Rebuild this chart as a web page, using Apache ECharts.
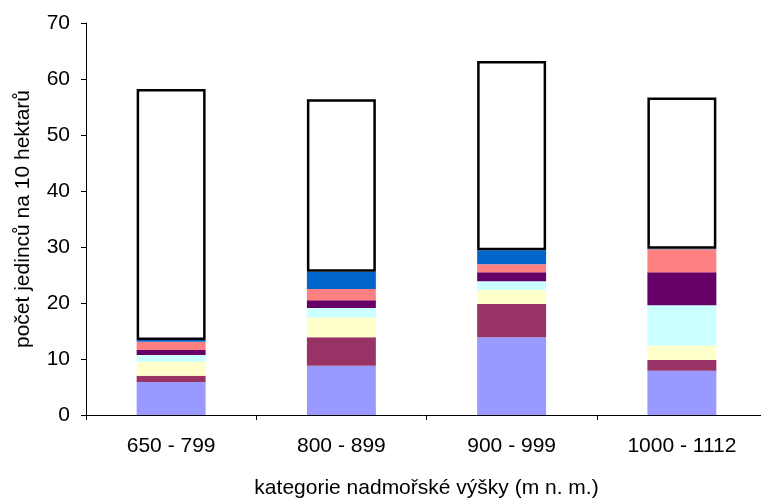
<!DOCTYPE html>
<html>
<head>
<meta charset="utf-8">
<script src="https://cdn.jsdelivr.net/npm/echarts@6/dist/echarts.min.js"></script>
<style>
  html, body { margin: 0; padding: 0; background: #fff; }
  #chart { width: 761px; height: 499px; }
</style>
</head>
<body>
<div id="chart"></div>
<script>
// Altitude categories (m a.s.l.)
const categories = ['650 - 799', '800 - 899', '900 - 999', '1000 - 1112'];

// Stacked components, bottom to top (individuals per 10 ha)
const seriesNames = ['skupina 1', 'skupina 2', 'skupina 3', 'skupina 4', 'skupina 5', 'skupina 6', 'skupina 7', 'skupina 8'];
const s1 = [5.9, 8.8, 13.9, 7.9];
const s2 = [1.1, 5.1, 5.9, 1.9];
const s3 = [2.5, 3.5, 2.5, 2.6];
const s4 = [1.2, 1.7, 1.6, 7.2];
const s5 = [0.9, 1.4, 1.6, 5.9];
const s6 = [1.5, 2.0, 1.4, 4.1];
const s7 = [0.3, 3.1, 2.5, 0.1];
const s8 = [44.8, 30.8, 33.8, 27.0];

const yTicks = { min: 0, max: 70, interval: 10 };

const colors = ['#9999FF', '#993366', '#FFFFCC', '#CCFFFF', '#660066', '#FF8080', '#0066CC', '#FFFFFF'];
const values = [s1, s2, s3, s4, s5, s6, s7, s8];

const font = 'Liberation Sans, Arial, sans-serif';

const series = values.map((v, i) => ({
  name: seriesNames[i],
  type: 'bar',
  stack: 'total',
  barWidth: '40.5%',
  data: v,
  itemStyle: i === 7
    ? { color: colors[i], borderColor: '#000', borderWidth: 2.5 }
    : { color: colors[i] },
  emphasis: { disabled: true }
}));

const chart = echarts.init(document.getElementById('chart'), null, { renderer: 'canvas' });
chart.setOption({
  animation: false,
  backgroundColor: '#fff',
  grid: { left: 86, right: -6, top: 23, bottom: 84, containLabel: false, outerBoundsMode: 'none' },
  xAxis: {
    type: 'category',
    data: categories,
    name: 'kategorie nadmořské výšky (m n. m.)',
    nameLocation: 'middle',
    nameGap: 63,
    nameTextStyle: { fontFamily: font, fontSize: 21, color: '#000' },
    axisLine: { lineStyle: { color: '#000', width: 1 } },
    axisTick: { show: true, alignWithLabel: false, length: 5, lineStyle: { color: '#000' } },
    axisLabel: { fontFamily: font, fontSize: 21, color: '#000', margin: 21 },
    splitLine: { show: false }
  },
  yAxis: {
    type: 'value',
    min: yTicks.min,
    max: yTicks.max,
    interval: yTicks.interval,
    name: 'počet jedinců na 10 hektarů',
    nameLocation: 'middle',
    nameGap: 52,
    nameRotate: 90,
    nameTextStyle: { fontFamily: font, fontSize: 21, color: '#000' },
    axisLine: { show: true, lineStyle: { color: '#000', width: 1 } },
    axisTick: { show: true, length: 5, lineStyle: { color: '#000' } },
    axisLabel: { fontFamily: font, fontSize: 21, color: '#000', margin: 16 },
    splitLine: { show: false }
  },
  series: series
});
</script>
</body>
</html>
